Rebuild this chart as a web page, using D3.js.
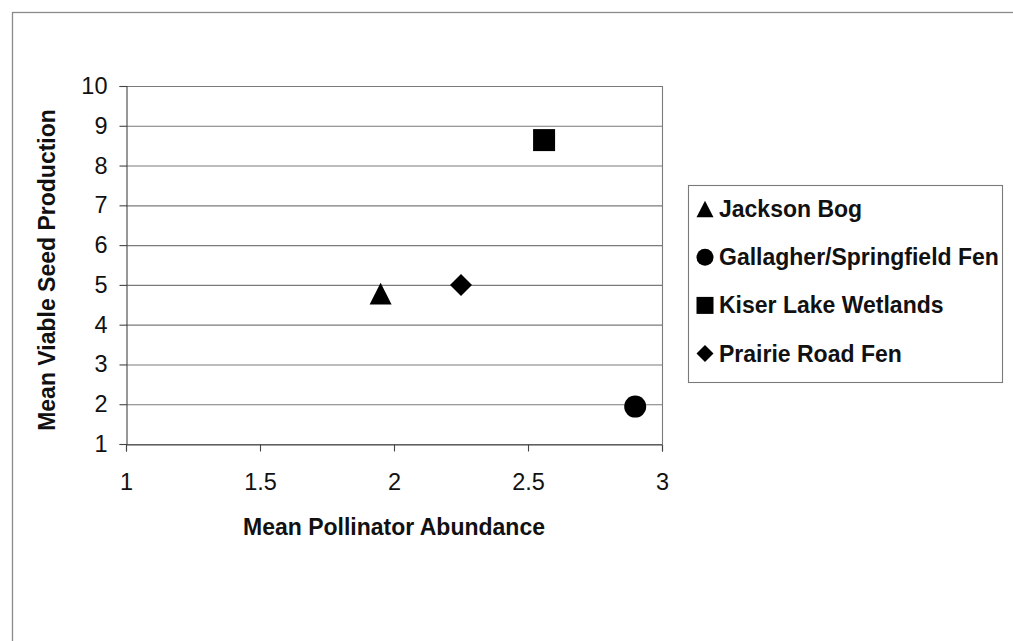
<!DOCTYPE html>
<html>
<head>
<meta charset="utf-8">
<script src="https://cdn.jsdelivr.net/npm/d3@7"></script>
<style>
  html, body { margin: 0; padding: 0; background: #fff; }
  svg { display: block; font-family: "Liberation Sans", Arial, sans-serif; }
</style>
</head>
<body>
<svg id="chart" width="1013" height="641"></svg>
<script>
// Site data: pollinator abundance vs. viable seed production
const sites = ["Jackson Bog", "Gallagher/Springfield Fen", "Kiser Lake Wetlands", "Prairie Road Fen"];
const pollinatorAbundance = [1.95, 2.90, 2.56, 2.25];
const seedProduction = [4.78, 1.94, 8.64, 5.00];
const markerShapes = ["triangle", "circle", "square", "diamond"];

const xTicks = [1, 1.5, 2, 2.5, 3];
const yTicks = [1, 2, 3, 4, 5, 6, 7, 8, 9, 10];

const svg = d3.select("#chart");

// Outer chart frame
svg.append("rect")
  .attr("x", 12.5).attr("y", 12.5)
  .attr("width", 1010).attr("height", 640)
  .attr("fill", "#fff")
  .attr("stroke", "#8a8a8a")
  .attr("stroke-width", 1.3);

const plot = { left: 126, right: 662, top: 86, bottom: 444 };

const x = d3.scaleLinear().domain([1, 3]).range([plot.left, plot.right]);
const y = d3.scaleLinear().domain([1, 10]).range([plot.bottom, plot.top]);

// Horizontal gridlines
svg.append("g")
  .selectAll("line")
  .data(yTicks)
  .join("line")
  .attr("x1", plot.left).attr("x2", plot.right)
  .attr("y1", d => y(d) + 0.5).attr("y2", d => y(d) + 0.5)
  .attr("stroke", "#7a7a7a")
  .attr("stroke-width", 1.1);

// Right border of plot area
svg.append("line")
  .attr("x1", plot.right + 0.5).attr("x2", plot.right + 0.5)
  .attr("y1", plot.top).attr("y2", plot.bottom)
  .attr("stroke", "#7a7a7a")
  .attr("stroke-width", 1.1);

// Axes
const xAxis = d3.axisBottom(x)
  .tickValues(xTicks)
  .tickSize(7)
  .tickPadding(22)
  .tickFormat(d3.format("~g"));

const yAxis = d3.axisLeft(y)
  .tickValues(yTicks)
  .tickSize(7)
  .tickPadding(12)
  .tickFormat(d3.format("d"));

const gx = svg.append("g")
  .attr("transform", `translate(0,${plot.bottom + 0.5})`)
  .call(xAxis);
const gy = svg.append("g")
  .attr("transform", `translate(${plot.left + 0.5},0)`)
  .call(yAxis);

[gx, gy].forEach(g => {
  g.select(".domain").attr("stroke", "#444").attr("stroke-width", 1.1);
  g.selectAll(".tick line").attr("stroke", "#444").attr("stroke-width", 1.1);
  g.selectAll(".tick text")
    .attr("font-family", "Liberation Sans, Arial, sans-serif")
    .attr("font-size", 23.5)
    .attr("fill", "#111");
});

// Axis titles
svg.append("text")
  .attr("x", (plot.left + plot.right) / 2)
  .attr("y", 535)
  .attr("text-anchor", "middle")
  .attr("font-size", 23)
  .attr("font-weight", "bold")
  .attr("fill", "#111")
  .text("Mean Pollinator Abundance");

svg.append("text")
  .attr("transform", `translate(55,${(plot.top + plot.bottom) / 2 + 5}) rotate(-90)`)
  .attr("text-anchor", "middle")
  .attr("font-size", 23)
  .attr("font-weight", "bold")
  .attr("fill", "#111")
  .text("Mean Viable Seed Production");

// Marker symbol types, each sized by its bounding width w (size = w*w)
const shapeTypes = {
  triangle: {
    draw(ctx, size) {
      const w = Math.sqrt(size), h = w * 0.98;
      ctx.moveTo(0, -h / 2);
      ctx.lineTo(w / 2, h / 2);
      ctx.lineTo(-w / 2, h / 2);
      ctx.closePath();
    }
  },
  circle: {
    draw(ctx, size) {
      const r = Math.sqrt(size) / 2;
      ctx.moveTo(r, 0);
      ctx.arc(0, 0, r, 0, 2 * Math.PI);
    }
  },
  square: {
    draw(ctx, size) {
      const s = Math.sqrt(size) / 2;
      ctx.rect(-s, -s, 2 * s, 2 * s);
    }
  },
  diamond: {
    draw(ctx, size) {
      const s = Math.sqrt(size) / 2;
      ctx.moveTo(0, -s);
      ctx.lineTo(s, 0);
      ctx.lineTo(0, s);
      ctx.lineTo(-s, 0);
      ctx.closePath();
    }
  }
};

const points = sites.map((name, i) => ({
  name,
  px: pollinatorAbundance[i],
  sy: seedProduction[i],
  shape: markerShapes[i]
}));

// Data markers
svg.append("g")
  .selectAll("path")
  .data(points)
  .join("path")
  .attr("transform", d => `translate(${x(d.px)},${y(d.sy)})`)
  .attr("d", d => d3.symbol(shapeTypes[d.shape], 22 * 22)())
  .attr("fill", "#000");

// Legend
const legend = svg.append("g");
legend.append("rect")
  .attr("x", 688.5).attr("y", 185.5)
  .attr("width", 314).attr("height", 197)
  .attr("fill", "#fff")
  .attr("stroke", "#7a7a7a")
  .attr("stroke-width", 1.1);

const rows = legend.selectAll("g.row")
  .data(points)
  .join("g")
  .attr("class", "row")
  .attr("transform", (d, i) => `translate(705,${209 + i * 48.2})`);

rows.append("path")
  .attr("d", d => d3.symbol(shapeTypes[d.shape], 17 * 17)())
  .attr("fill", "#000");

rows.append("text")
  .attr("x", 14)
  .attr("y", 8)
  .attr("font-size", 23)
  .attr("font-weight", "bold")
  .attr("fill", "#111")
  .text(d => d.name);
</script>
</body>
</html>
